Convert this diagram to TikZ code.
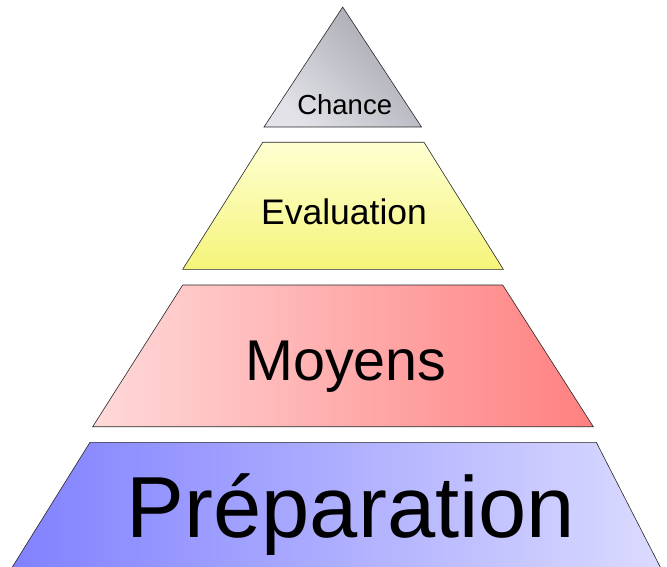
\documentclass[tikz,border=0pt]{standalone}
\usepackage{fontspec}
\setmainfont{Liberation Sans}
\begin{document}
\begin{tikzpicture}[x=1pt,y=-1pt,
  level/.style={draw=black!85, line width=0.6pt},
  lbl/.style={anchor=base, inner sep=0pt, text=black}]
\useasboundingbox (0,0) rectangle (667,567);
\definecolor{chdark}{HTML}{A4A4AE}
\definecolor{chlight}{HTML}{E2E2E8}
\definecolor{evtop}{HTML}{FFFFD2}
\definecolor{evbot}{HTML}{F4F47A}
\definecolor{moleft}{HTML}{FFD9D9}
\definecolor{moright}{HTML}{FF8080}
\definecolor{prleft}{HTML}{7F7FFF}
\definecolor{prright}{HTML}{DCDCFF}
% Préparation (cut by picture bottom)
\begin{scope}
\clip (0,0) rectangle (667,567);
\shade[level, left color=prleft, right color=prright]
  (90,442.3) -- (596.3,442.3) -- (672,590) -- (-2,590) -- cycle;
\end{scope}
% Moyens
\shade[level, left color=moleft, right color=moright]
  (182.7,285) -- (502.7,285) -- (593.3,426.7) -- (92.7,426.7) -- cycle;
% Evaluation
\shade[level, top color=evtop, bottom color=evbot]
  (262.7,142.3) -- (424,142.3) -- (503.3,269.3) -- (182.7,269.3) -- cycle;
% Chance
\shade[level, top color=chdark, bottom color=chlight, shading angle=-45]
  (342.7,7) -- (421.5,127) -- (264,127) -- cycle;
\node[lbl, font=\fontsize{27.5}{30}\selectfont] (chance) at (344.7,114.3) {Chance};
\node[lbl, font=\fontsize{35.5}{40}\selectfont] (eval) at (344,225) {Evaluation};
\node[lbl, font=\fontsize{57.5}{62}\selectfont] (moy) at (346,380) {Moyens};
\node[lbl, font=\fontsize{86.7}{92}\selectfont] (prep) at (351,537) {Préparation};
\end{tikzpicture}
\end{document}
